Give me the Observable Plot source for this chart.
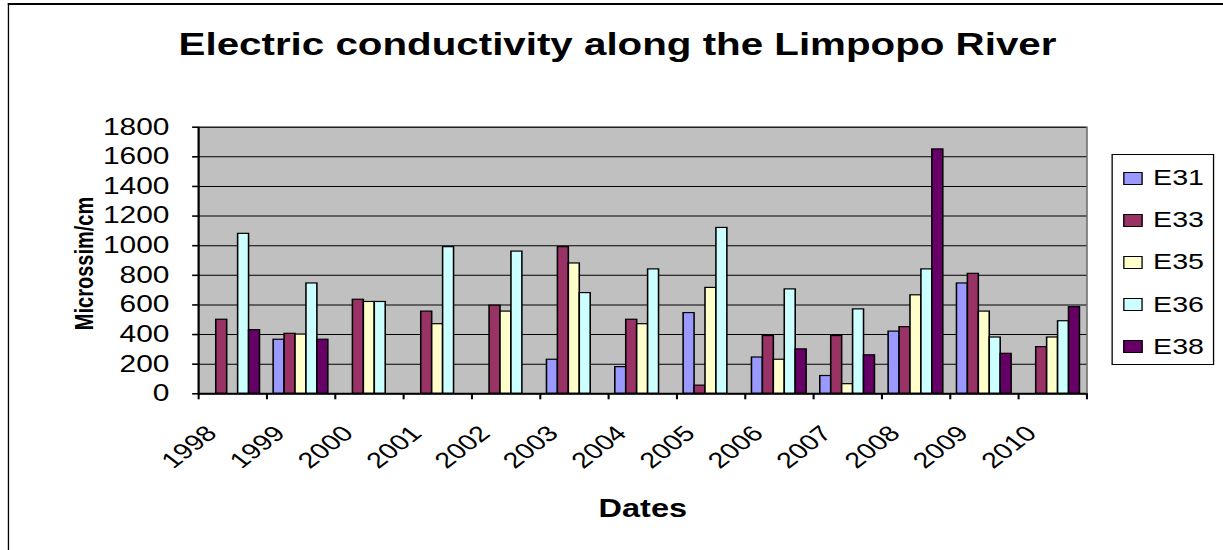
<!DOCTYPE html>
<html>
<head>
<meta charset="utf-8">
<script src="https://cdn.jsdelivr.net/npm/d3@7"></script>
<script src="https://cdn.jsdelivr.net/npm/@observablehq/plot@0.6"></script>
<style>
  html, body { margin: 0; padding: 0; background: #fff; overflow: hidden; }
  body { width: 1223px; height: 550px; }
  #fig {
    position: relative; width: 941px; height: 550px;
    transform: scaleX(1.3); transform-origin: 0 0;
    font-family: "Liberation Sans", Arial, sans-serif; color: #000;
  }
  #border {
    position: absolute; left: 6px; top: 3px; width: 960px; height: 600px;
    border-left: 1.6px solid #000; border-top: 2px solid #000;
  }
  #title {
    position: absolute; left: 0; top: 28.5px; width: 950px;
    text-align: center; font-size: 31px; line-height: 31px; font-weight: bold;
    white-space: nowrap;
  }
  #chart svg { position: absolute; left: 0; top: 0; }
  #legend {
    position: absolute; left: 855px; top: 154px; width: 79px; height: 211px;
    box-sizing: border-box; border: 1.3px solid #000; background: #fff;
  }
  .row {
    position: absolute; left: 0; height: 42px; display: flex; align-items: center;
    font-size: 22px;
  }
  .sw {
    width: 15px; height: 13px; box-sizing: border-box; border: 1px solid #000;
    margin-left: 8px; margin-right: 8px;
  }
</style>
</head>
<body>
<div id="fig">
  <div id="border"></div>
  <div id="title">Electric conductivity along the Limpopo River</div>
  <div id="chart"></div>
  <div id="legend"></div>
</div>
<script>
// Sampling years (one group of bars per year)
const years = [1998, 1999, 2000, 2001, 2002, 2003, 2004, 2005, 2006, 2007, 2008, 2009, 2010];

// Monitoring stations and their colours
const series = ["E31", "E33", "E35", "E36", "E38"];
const colors = ["#9999FF", "#993366", "#FFFFCC", "#CCFFFF", "#660066"];

// Electric conductivity (Microssim/cm) per station, one value per year; null = not sampled
const E31 = [null, 365, null, null, null, 230, 180, 545, 245, 120, 420, 745, null];
const E33 = [500, 405, 635, 555, 595, 990, 500, 55, 390, 390, 450, 810, 315];
const E35 = [null, 400, 620, 470, 555, 880, 470, 715, 230, 65, 665, 555, 380];
const E36 = [1080, 745, 620, 990, 960, 680, 840, 1120, 705, 570, 840, 380, 490];
const E38 = [430, 365, null, null, null, null, null, null, 300, 260, 1650, 270, 585];

// Axis ticks
const yTicks = [0, 200, 400, 600, 800, 1000, 1200, 1400, 1600, 1800];
const xTicks = [...years, 2011];

const byStation = {E31, E33, E35, E36, E38};
const rows = [];
series.forEach((s, i) => {
  byStation[s].forEach((v, j) => {
    if (v != null) rows.push({year: years[j], station: s, slot: i, value: v});
  });
});

// Each year occupies one unit on x; bars share the middle 80% of it
const pad = 0.1;
const bw = (1 - 2 * pad) / series.length;

const font = '"Liberation Sans", Arial, sans-serif';

const chart = Plot.plot({
  width: 941,
  height: 550,
  marginLeft: 152.3,
  marginRight: 105.4,
  marginTop: 126.7,
  marginBottom: 156.7,
  style: {fontFamily: font, fontSize: "22px", color: "#000", background: "transparent", overflow: "visible"},
  x: {domain: [1998, 2011], axis: null},
  y: {domain: [0, 1800], axis: null},
  color: {domain: series, range: colors},
  marks: [
    Plot.frame({fill: "#c0c0c0", stroke: "#808080", strokeWidth: 1.5}),
    Plot.gridY(yTicks.filter(d => d > 0), {stroke: "#000", strokeOpacity: 1, strokeWidth: 1}),
    Plot.rectY(rows, {
      x1: d => d.year + pad + d.slot * bw,
      x2: d => d.year + pad + (d.slot + 1) * bw,
      y1: 0,
      y2: "value",
      fill: "station",
      stroke: "#000",
      strokeWidth: 1.2
    }),
    Plot.ruleY([0], {stroke: "#000", strokeWidth: 2}),
    Plot.ruleX([1998], {stroke: "#000", strokeWidth: 1.6}),
    Plot.axisY(yTicks, {anchor: "left", tickSize: 4.5, tickPadding: 18, tickFormat: d => String(d), fontSize: 23, label: null, stroke: "#000", strokeWidth: 1.6}),
    Plot.axisX(xTicks, {anchor: "bottom", tickSize: 6, tickFormat: () => "", fill: "none", label: null, stroke: "#000", strokeWidth: 1.6}),
    Plot.text(years, {
      x: d => d, text: d => String(d), frameAnchor: "bottom",
      rotate: -45, textAnchor: "end", lineAnchor: "bottom",
      dx: 15, dy: 41, fontSize: 22, fill: "#000"
    }),
    Plot.text(["Microssim/cm"], {
      frameAnchor: "left", dx: -88, dy: 3, rotate: -90,
      textAnchor: "middle", lineAnchor: "middle",
      fontSize: 20, fontWeight: "bold", fill: "#000"
    }),
    Plot.text(["Dates"], {
      frameAnchor: "bottom", dy: 115, textAnchor: "middle", lineAnchor: "middle",
      fontSize: 25, fontWeight: "bold", fill: "#000"
    })
  ]
});
document.getElementById("chart").appendChild(chart);

// Legend: one swatch per station
const legend = document.getElementById("legend");
series.forEach((s, i) => {
  const row = document.createElement("div");
  row.className = "row";
  row.style.top = (2 + i * 42.2) + "px";
  const sw = document.createElement("div");
  sw.className = "sw";
  sw.style.background = colors[i];
  const label = document.createElement("span");
  label.textContent = s;
  row.appendChild(sw);
  row.appendChild(label);
  legend.appendChild(row);
});
</script>
</body>
</html>
